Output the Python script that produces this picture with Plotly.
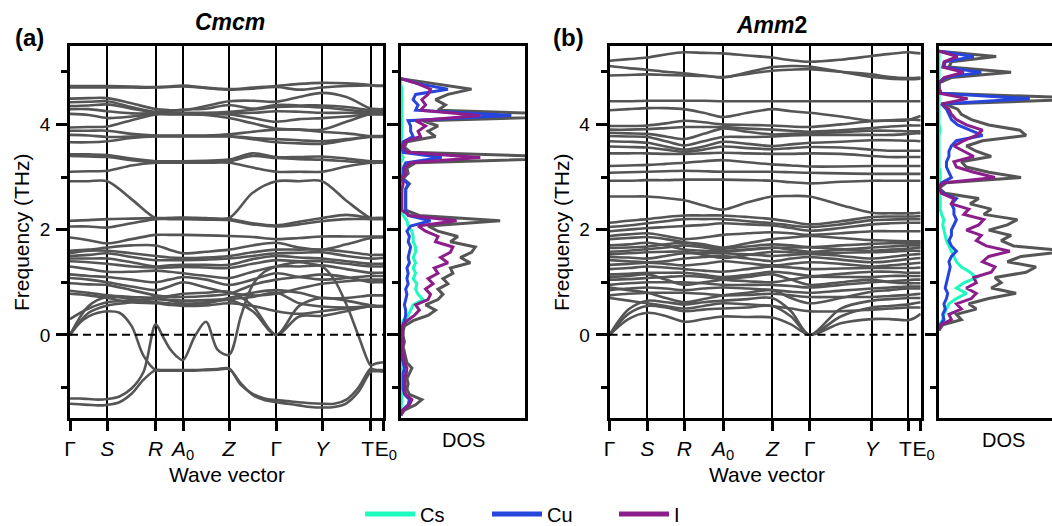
import numpy as np
import plotly.graph_objects as go

W, H = 1052, 526
FONT = "Liberation Sans, Arial, Helvetica, sans-serif"

# ---------------- k-path (high-symmetry points, path length) ----------------
KLABELS = ["Γ", "<i>S</i>", "<i>R</i>", "<i>A</i><sub>0</sub>", "<i>Z</i>", "Γ", "<i>Y</i>",
           "T\u00a0", "\u00a0E<sub>0</sub>"]
KPATH_A = [0.0, 0.373, 0.857, 1.130, 1.590, 2.063, 2.520, 3.007, 3.130]
KPATH_B = [0.0, 0.378, 0.748, 1.135, 1.628, 2.002, 2.622, 2.988, 3.112]

# ---------------- Cmcm phonon bands (values at points + segment midpoints) ----------------
BANDS_A = [
    [4.73, 4.73, 4.73, 4.72, 4.71, 4.72, 4.74, 4.70, 4.67, 4.70, 4.73, 4.77, 4.79, 4.78, 4.75, 4.74, 4.74],
    [4.70, 4.70, 4.70, 4.70, 4.70, 4.71, 4.72, 4.69, 4.66, 4.68, 4.71, 4.66, 4.70, 4.73, 4.74, 4.73, 4.73],
    [4.49, 4.50, 4.50, 4.40, 4.29, 4.27, 4.27, 4.35, 4.44, 4.45, 4.43, 4.52, 4.60, 4.52, 4.30, 4.29, 4.29],
    [4.42, 4.43, 4.44, 4.33, 4.24, 4.25, 4.28, 4.30, 4.37, 4.30, 4.37, 4.36, 4.36, 4.33, 4.27, 4.27, 4.27],
    [4.35, 4.36, 4.38, 4.30, 4.22, 4.22, 4.22, 4.22, 4.24, 4.28, 4.33, 4.34, 4.32, 4.28, 4.23, 4.23, 4.23],
    [4.29, 4.29, 4.25, 4.21, 4.21, 4.21, 4.21, 4.21, 4.21, 4.22, 4.25, 4.24, 4.22, 4.22, 4.21, 4.21, 4.21],
    [4.20, 4.18, 4.12, 4.15, 4.20, 4.20, 4.20, 4.18, 4.12, 4.02, 3.92, 3.90, 3.90, 4.05, 4.20, 4.20, 4.20],
    [3.94, 3.95, 3.96, 4.08, 4.19, 4.19, 4.19, 4.19, 4.19, 4.12, 4.05, 4.10, 4.12, 4.15, 4.19, 4.19, 4.19],
    [3.88, 3.88, 3.88, 3.82, 3.79, 3.79, 3.79, 3.79, 3.81, 3.86, 3.90, 3.90, 3.86, 3.83, 3.78, 3.78, 3.78],
    [3.80, 3.79, 3.76, 3.77, 3.78, 3.78, 3.78, 3.78, 3.78, 3.74, 3.72, 3.70, 3.68, 3.72, 3.77, 3.77, 3.77],
    [3.66, 3.66, 3.68, 3.74, 3.77, 3.77, 3.77, 3.77, 3.77, 3.72, 3.66, 3.64, 3.63, 3.70, 3.76, 3.76, 3.76],
    [3.43, 3.43, 3.42, 3.35, 3.30, 3.30, 3.30, 3.31, 3.33, 3.45, 3.38, 3.38, 3.39, 3.35, 3.30, 3.30, 3.30],
    [3.40, 3.39, 3.38, 3.32, 3.28, 3.28, 3.28, 3.29, 3.30, 3.40, 3.36, 3.34, 3.33, 3.30, 3.27, 3.27, 3.27],
    [3.10, 3.11, 3.12, 3.22, 3.27, 3.27, 3.27, 3.27, 3.27, 3.18, 3.10, 3.10, 3.10, 3.20, 3.27, 3.27, 3.27],
    [2.92, 2.92, 2.92, 2.58, 2.22, 2.22, 2.23, 2.22, 2.22, 2.70, 2.92, 2.92, 2.92, 2.55, 2.22, 2.22, 2.22],
    [2.17, 2.18, 2.20, 2.21, 2.22, 2.22, 2.22, 2.21, 2.20, 2.12, 2.08, 2.15, 2.22, 2.28, 2.22, 2.22, 2.22],
    [2.06, 2.06, 2.04, 2.12, 2.20, 2.20, 2.20, 2.19, 2.18, 2.10, 2.06, 2.10, 2.16, 2.20, 2.20, 2.20, 2.20],
    [1.85, 1.80, 1.74, 1.82, 1.90, 1.90, 1.90, 1.89, 1.88, 1.86, 1.82, 1.84, 1.87, 1.87, 1.87, 1.87, 1.87],
    [1.60, 1.62, 1.66, 1.70, 1.70, 1.62, 1.55, 1.58, 1.62, 1.70, 1.75, 1.66, 1.62, 1.72, 1.84, 1.85, 1.85],
    [1.55, 1.60, 1.60, 1.55, 1.50, 1.47, 1.46, 1.47, 1.50, 1.57, 1.62, 1.62, 1.62, 1.58, 1.52, 1.52, 1.52],
    [1.50, 1.52, 1.55, 1.48, 1.42, 1.42, 1.42, 1.43, 1.45, 1.50, 1.55, 1.56, 1.57, 1.50, 1.45, 1.45, 1.46],
    [1.45, 1.45, 1.45, 1.38, 1.30, 1.32, 1.33, 1.33, 1.33, 1.44, 1.50, 1.47, 1.45, 1.40, 1.35, 1.35, 1.35],
    [1.40, 1.38, 1.35, 1.30, 1.28, 1.28, 1.29, 1.28, 1.27, 1.35, 1.42, 1.40, 1.40, 1.35, 1.30, 1.30, 1.30],
    [1.30, 1.25, 1.20, 1.20, 1.22, 1.20, 1.17, 1.12, 1.08, 1.20, 1.30, 1.30, 1.32, 1.25, 1.18, 1.18, 1.18],
    [1.15, 1.12, 1.10, 1.05, 1.00, 1.05, 1.10, 1.05, 0.95, 1.05, 1.17, 1.10, 1.05, 1.08, 1.12, 1.12, 1.12],
    [1.08, 1.05, 1.00, 0.92, 0.85, 0.92, 1.00, 0.90, 0.80, 0.75, 0.78, 0.88, 0.97, 1.02, 1.05, 1.05, 1.05],
    [0.98, 0.96, 0.95, 0.85, 0.75, 0.72, 0.72, 0.74, 0.78, 0.95, 1.05, 1.10, 1.15, 1.10, 1.00, 1.00, 1.00],
    [0.84, 0.80, 0.75, 0.72, 0.70, 0.66, 0.60, 0.62, 0.70, 0.80, 0.85, 0.80, 0.70, 0.70, 0.75, 0.75, 0.75],
    [0.78, 0.75, 0.70, 0.62, 0.60, 0.57, 0.55, 0.56, 0.60, 0.55, 0.45, 0.40, 0.45, 0.50, 0.54, 0.54, 0.54],
    [0.00, 0.55, 0.72, 0.68, 0.62, 0.60, 0.58, 0.60, 0.66, 0.45, 0.00, 0.55, 0.70, 0.65, 0.56, 0.55, 0.55],
    [0.00, 0.42, 0.56, 0.62, 0.72, 0.74, 0.78, 0.80, 0.82, 0.55, 0.00, 0.35, 0.36, 0.45, 0.55, 0.55, 0.55],
    [0.30, 0.50, 0.62, 0.65, 0.68, 0.66, 0.65, 0.66, 0.68, 0.72, 0.80, 0.60, 0.54, 0.52, 0.54, 0.54, 0.54],
]
# soft (imaginary) branches of Cmcm, sampled at quarter points of each segment
SOFT_A = [
    [-1.21, -1.21, -1.22, -1.23, -1.22, -1.17, -1.02, -0.70, 0.20, -0.02, -0.25, -0.40, -0.48,
     -0.04, 0.25, -0.28, -0.38, 0.35, 0.95, 1.20, 1.30, 1.35, 1.38, 1.35, 1.30,
     1.05, 0.58, -0.02, -0.58, -0.56, -0.54, -0.53, -0.52],
    [-1.31, -1.32, -1.33, -1.34, -1.33, -1.28, -1.12, -0.85, -0.67, -0.67, -0.67, -0.67, -0.67,
     -0.67, -0.66, -0.65, -0.64, -0.95, -1.12, -1.21, -1.24, -1.26, -1.28, -1.30, -1.31,
     -1.31, -1.23, -1.00, -0.64, -0.66, -0.67, -0.67, -0.67],
    [0.00, 0.22, 0.35, 0.42, 0.45, 0.42, 0.17, -0.40, -0.67, -0.68, -0.68, -0.68, -0.68,
     -0.68, -0.67, -0.66, -0.65, -0.92, -1.14, -1.24, -1.28, -1.31, -1.34, -1.37, -1.38,
     -1.37, -1.30, -1.08, -0.70, -0.69, -0.69, -0.69, -0.70],
]

# ---------------- Amm2 phonon bands ----------------
BANDS_B = [
    [5.21, 5.24, 5.27, 5.33, 5.37, 5.36, 5.35, 5.31, 5.27, 5.22, 5.19, 5.23, 5.30, 5.34, 5.37, 5.36, 5.35],
    [5.11, 5.07, 5.04, 5.00, 4.97, 4.93, 4.89, 4.99, 5.09, 5.11, 5.10, 5.00, 4.90, 4.87, 4.86, 4.86, 4.87],
    [4.93, 4.94, 4.95, 4.94, 4.93, 4.92, 4.90, 4.96, 5.02, 5.04, 5.05, 5.00, 4.95, 4.90, 4.88, 4.88, 4.89],
    [4.44, 4.44, 4.45, 4.45, 4.45, 4.45, 4.44, 4.44, 4.44, 4.44, 4.44, 4.44, 4.44, 4.44, 4.44, 4.44, 4.44],
    [4.27, 4.29, 4.31, 4.31, 4.29, 4.22, 4.14, 4.22, 4.29, 4.25, 4.22, 4.15, 4.07, 4.07, 4.08, 4.12, 4.16],
    [3.97, 3.97, 3.98, 4.02, 4.07, 4.04, 4.00, 3.99, 3.98, 3.96, 3.95, 4.00, 4.06, 4.08, 4.09, 4.09, 4.08],
    [3.90, 3.90, 3.91, 3.93, 3.95, 3.95, 3.95, 3.92, 3.90, 3.88, 3.86, 3.89, 3.93, 3.96, 3.98, 3.98, 3.98],
    [3.84, 3.83, 3.82, 3.77, 3.72, 3.82, 3.92, 3.86, 3.81, 3.82, 3.83, 3.85, 3.88, 3.88, 3.87, 3.87, 3.87],
    [3.78, 3.77, 3.76, 3.68, 3.60, 3.68, 3.76, 3.76, 3.77, 3.79, 3.80, 3.80, 3.80, 3.80, 3.82, 3.83, 3.83],
    [3.68, 3.67, 3.65, 3.58, 3.52, 3.58, 3.67, 3.63, 3.59, 3.62, 3.65, 3.67, 3.70, 3.70, 3.69, 3.69, 3.68],
    [3.58, 3.57, 3.56, 3.52, 3.48, 3.52, 3.58, 3.55, 3.53, 3.55, 3.57, 3.56, 3.52, 3.50, 3.50, 3.50, 3.50],
    [3.45, 3.45, 3.45, 3.44, 3.44, 3.45, 3.46, 3.45, 3.44, 3.44, 3.45, 3.44, 3.40, 3.38, 3.38, 3.38, 3.38],
    [3.21, 3.22, 3.23, 3.25, 3.27, 3.30, 3.32, 3.28, 3.24, 3.22, 3.20, 3.20, 3.21, 3.21, 3.21, 3.21, 3.21],
    [3.08, 3.09, 3.10, 3.11, 3.12, 3.11, 3.10, 3.10, 3.10, 3.09, 3.08, 3.07, 3.06, 3.06, 3.06, 3.06, 3.06],
    [2.93, 2.93, 2.94, 2.94, 2.95, 2.95, 2.95, 2.94, 2.93, 2.90, 2.88, 2.91, 2.93, 2.93, 2.93, 2.93, 2.93],
    [2.63, 2.63, 2.63, 2.60, 2.56, 2.46, 2.38, 2.52, 2.63, 2.64, 2.63, 2.47, 2.32, 2.31, 2.31, 2.31, 2.32],
    [2.13, 2.17, 2.20, 2.24, 2.27, 2.27, 2.27, 2.24, 2.20, 2.15, 2.10, 2.16, 2.24, 2.25, 2.25, 2.25, 2.26],
    [2.05, 2.08, 2.12, 2.16, 2.20, 2.20, 2.20, 2.16, 2.12, 2.08, 2.05, 2.10, 2.18, 2.19, 2.20, 2.20, 2.20],
    [1.97, 2.00, 2.03, 2.05, 2.07, 2.09, 2.12, 2.10, 2.08, 2.03, 1.98, 2.03, 2.10, 2.12, 2.13, 2.13, 2.13],
    [1.88, 1.91, 1.93, 1.88, 1.82, 1.85, 1.90, 1.93, 1.95, 1.93, 1.90, 1.93, 1.97, 1.97, 1.97, 1.97, 1.97],
    [1.82, 1.84, 1.86, 1.82, 1.76, 1.72, 1.66, 1.74, 1.82, 1.85, 1.88, 1.84, 1.80, 1.79, 1.78, 1.78, 1.78],
    [1.70, 1.72, 1.75, 1.70, 1.62, 1.60, 1.58, 1.62, 1.66, 1.62, 1.58, 1.62, 1.66, 1.68, 1.70, 1.70, 1.70],
    [1.65, 1.66, 1.68, 1.72, 1.75, 1.70, 1.64, 1.68, 1.72, 1.70, 1.67, 1.70, 1.73, 1.74, 1.74, 1.74, 1.75],
    [1.58, 1.60, 1.63, 1.66, 1.70, 1.66, 1.60, 1.62, 1.65, 1.66, 1.66, 1.63, 1.60, 1.62, 1.64, 1.65, 1.66],
    [1.53, 1.55, 1.57, 1.58, 1.58, 1.52, 1.46, 1.52, 1.58, 1.57, 1.55, 1.56, 1.57, 1.58, 1.60, 1.60, 1.60],
    [1.48, 1.47, 1.45, 1.50, 1.55, 1.55, 1.55, 1.53, 1.50, 1.52, 1.54, 1.50, 1.45, 1.48, 1.52, 1.53, 1.54],
    [1.42, 1.40, 1.38, 1.40, 1.45, 1.48, 1.50, 1.45, 1.40, 1.45, 1.48, 1.43, 1.38, 1.40, 1.44, 1.45, 1.46],
    [1.33, 1.35, 1.37, 1.35, 1.32, 1.35, 1.40, 1.36, 1.32, 1.35, 1.38, 1.35, 1.30, 1.32, 1.35, 1.36, 1.37],
    [1.25, 1.27, 1.30, 1.28, 1.25, 1.22, 1.20, 1.25, 1.30, 1.28, 1.25, 1.26, 1.27, 1.27, 1.27, 1.27, 1.28],
    [1.15, 1.16, 1.18, 1.18, 1.18, 1.14, 1.10, 1.14, 1.20, 1.17, 1.12, 1.16, 1.20, 1.20, 1.18, 1.18, 1.18],
    [1.10, 1.12, 1.15, 1.05, 0.95, 1.00, 1.05, 1.10, 1.15, 1.05, 0.95, 1.00, 1.05, 1.00, 0.98, 0.98, 0.98],
    [1.05, 1.06, 1.08, 1.10, 1.12, 1.10, 1.05, 1.02, 1.00, 1.05, 1.10, 1.10, 1.10, 1.12, 1.12, 1.12, 1.12],
    [0.95, 0.98, 1.00, 1.00, 1.00, 0.98, 0.95, 0.95, 0.95, 0.93, 0.90, 0.95, 1.00, 1.02, 1.04, 1.05, 1.05],
    [0.90, 0.85, 0.80, 0.70, 0.62, 0.68, 0.75, 0.80, 0.85, 0.70, 0.60, 0.70, 0.82, 0.85, 0.88, 0.88, 0.88],
    [0.85, 0.88, 0.90, 0.88, 0.85, 0.88, 0.90, 0.88, 0.85, 0.82, 0.80, 0.84, 0.88, 0.90, 0.92, 0.92, 0.92],
    [0.75, 0.78, 0.80, 0.80, 0.80, 0.78, 0.75, 0.76, 0.78, 0.75, 0.72, 0.72, 0.72, 0.74, 0.76, 0.77, 0.78],
    [0.70, 0.65, 0.60, 0.55, 0.50, 0.55, 0.60, 0.58, 0.55, 0.50, 0.45, 0.45, 0.48, 0.50, 0.52, 0.52, 0.52],
    [0.00, 0.30, 0.42, 0.36, 0.25, 0.30, 0.35, 0.34, 0.33, 0.20, 0.00, 0.22, 0.30, 0.30, 0.28, 0.32, 0.40],
    [0.00, 0.40, 0.55, 0.52, 0.45, 0.48, 0.50, 0.52, 0.55, 0.35, 0.00, 0.35, 0.52, 0.55, 0.58, 0.60, 0.62],
    [0.00, 0.48, 0.65, 0.62, 0.58, 0.62, 0.65, 0.68, 0.70, 0.45, 0.00, 0.50, 0.65, 0.68, 0.70, 0.70, 0.70],
]

# ---------------- Projected DOS ----------------
DOS_FREQ_A = np.round(-1.53 + 0.1 * np.arange(65), 2)
DOS_A_TOTAL = [0, 0.03, 0.12, 0.17, 0.07, 0.05, 0.06, 0.05, 0.07, 0.09, 0.05, 0.04, 0.03, 0.02, 0.03, 0.02,
               0.02, 0.03, 0.10, 0.22, 0.28, 0.20, 0.30, 0.34, 0.30, 0.38, 0.34, 0.42, 0.40, 0.56, 0.48, 0.57,
               0.60, 0.40, 0.46, 0.30, 0.22, 0.80, 0.15, 0.04, 0.04, 0.04, 0.04, 0.04, 0.07, 0.02, 0.06, 0.05,
               0.12, 1.50, 0.08, 0.03, 0.05, 0.28, 0.22, 0.30, 0.18, 1.60, 0.30, 0.36, 0.28, 0.38, 0.57, 0.30, 0]
DOS_A_CS = [0, 0, 0.005, 0.01, 0.005, 0.004, 0.004, 0.003, 0.005, 0.005, 0.003, 0.003, 0.002, 0.002, 0.002,
            0.002, 0.003, 0.005, 0.02, 0.06, 0.08, 0.10, 0.18, 0.14, 0.12, 0.13, 0.10, 0.12, 0.10, 0.12, 0.10,
            0.12, 0.12, 0.10, 0.10, 0.09, 0.06, 0.05, 0.02, 0, 0, 0, 0, 0, 0, 0, 0, 0, 0, 0.02, 0, 0, 0, 0.01,
            0.01, 0.01, 0.01, 0.01, 0.01, 0.01, 0.01, 0.01, 0.01, 0, 0]
DOS_A_CU = [0, 0.015, 0.06, 0.07, 0.03, 0.02, 0.02, 0.02, 0.02, 0.03, 0.02, 0.01, 0.01, 0.01, 0.01, 0.01,
            0.01, 0.015, 0.03, 0.04, 0.04, 0.03, 0.04, 0.05, 0.04, 0.06, 0.05, 0.06, 0.05, 0.07, 0.06, 0.07,
            0.08, 0.06, 0.07, 0.05, 0.08, 0.24, 0.06, 0.04, 0.04, 0.04, 0.04, 0.04, 0.06, 0.01, 0.02, 0.02,
            0.04, 0.33, 0.02, 0.01, 0.02, 0.10, 0.08, 0.08, 0.06, 0.89, 0.12, 0.14, 0.10, 0.12, 0.38, 0.15, 0]
DOS_A_I = [0, 0.02, 0.07, 0.09, 0.04, 0.03, 0.035, 0.03, 0.045, 0.05, 0.03, 0.025, 0.02, 0.01, 0.02, 0.01,
           0.01, 0.015, 0.05, 0.11, 0.15, 0.12, 0.22, 0.24, 0.20, 0.26, 0.22, 0.30, 0.27, 0.38, 0.32, 0.40,
           0.42, 0.28, 0.30, 0.20, 0.14, 0.45, 0.07, 0.01, 0.01, 0.01, 0.01, 0.01, 0.02, 0.01, 0.04, 0.03,
           0.08, 0.64, 0.05, 0.02, 0.03, 0.16, 0.14, 0.20, 0.12, 0.64, 0.16, 0.20, 0.17, 0.22, 0.24, 0.14, 0]

DOS_FREQ_B = np.round(0.09 + 0.1 * np.arange(54), 2)
DOS_B_TOTAL = [0, 0.03, 0.18, 0.14, 0.30, 0.24, 0.40, 0.62, 0.42, 0.50, 0.45, 0.70, 0.78, 0.55, 0.66, 1.05,
               0.60, 0.50, 0.58, 0.40, 0.55, 0.63, 0.36, 0.42, 0.25, 0.32, 0.05, 0, 0.06, 0.66, 0.40, 0.22,
               0.18, 0.42, 0.30, 0.22, 0.35, 0.70, 0.65, 0.40, 0.26, 0.18, 0.15, 0.04, 1.30, 0.02, 0, 0,
               0.10, 0.58, 0.08, 0.10, 0.46, 0]
DOS_B_CS = [0, 0.005, 0.03, 0.04, 0.06, 0.08, 0.14, 0.22, 0.14, 0.20, 0.30, 0.25, 0.18, 0.14, 0.12, 0.10,
            0.08, 0.06, 0.05, 0.04, 0.03, 0.04, 0.02, 0.01, 0.01, 0.01, 0, 0, 0, 0.01, 0.01, 0, 0, 0, 0, 0,
            0, 0, 0.01, 0, 0, 0, 0, 0, 0, 0, 0, 0, 0, 0, 0, 0, 0, 0]
DOS_B_CU = [0, 0.01, 0.04, 0.03, 0.05, 0.04, 0.06, 0.07, 0.05, 0.06, 0.07, 0.08, 0.09, 0.08, 0.10, 0.14,
            0.10, 0.08, 0.10, 0.10, 0.12, 0.14, 0.12, 0.12, 0.10, 0.14, 0.03, 0, 0.02, 0.10, 0.08, 0.06,
            0.06, 0.08, 0.08, 0.10, 0.14, 0.35, 0.25, 0.15, 0.10, 0.08, 0.06, 0.02, 0.73, 0.01, 0, 0,
            0.05, 0.34, 0.04, 0.05, 0.28, 0]
DOS_B_I = [0, 0.015, 0.10, 0.08, 0.18, 0.14, 0.26, 0.30, 0.22, 0.30, 0.28, 0.42, 0.45, 0.35, 0.40, 0.57,
           0.38, 0.30, 0.34, 0.22, 0.32, 0.36, 0.20, 0.24, 0.10, 0.12, 0.02, 0, 0.03, 0.45, 0.28, 0.14,
           0.12, 0.28, 0.20, 0.12, 0.20, 0.30, 0.35, 0.22, 0.14, 0.10, 0.08, 0.02, 0.23, 0.01, 0, 0,
           0.04, 0.20, 0.03, 0.04, 0.15, 0]

SPECIES = ["Cs", "Cu", "I"]
COLORS = {"total": "#555555", "Cs": "#1dfbbf", "Cu": "#2545dc", "I": "#8b1e8a"}
BAND_COLOR = "#555555"

FREQ_RANGE = [-1.58, 5.49]


def sample_path(kpath, nsub):
    xs = [kpath[0]]
    for a, b in zip(kpath[:-1], kpath[1:]):
        for j in range(1, nsub + 1):
            xs.append(a + (b - a) * j / nsub)
    return xs


def band_trace(kpath, bands, nsub, xa, ya):
    ks = sample_path(kpath, nsub)
    X, Y = [], []
    for b in bands:
        X += ks + [None]
        Y += list(b) + [None]
    return go.Scatter(x=X, y=Y, mode="lines", xaxis=xa, yaxis=ya, showlegend=False,
                      hoverinfo="skip", connectgaps=False,
                      line=dict(color=BAND_COLOR, width=2.6, shape="spline", smoothing=0.9))


fig = go.Figure()
fig.add_trace(band_trace(KPATH_A, BANDS_A, 2, "x", "y"))
fig.add_trace(band_trace(KPATH_A, SOFT_A, 4, "x", "y"))
fig.add_trace(band_trace(KPATH_B, BANDS_B, 2, "x3", "y3"))

for freq, tot, cs, cu, io, xa, ya in [
    (DOS_FREQ_A, DOS_A_TOTAL, DOS_A_CS, DOS_A_CU, DOS_A_I, "x2", "y2"),
    (DOS_FREQ_B, DOS_B_TOTAL, DOS_B_CS, DOS_B_CU, DOS_B_I, "x4", "y4"),
]:
    for key, vals in [("total", tot), ("Cs", cs), ("Cu", cu), ("I", io)]:
        fig.add_trace(go.Scatter(x=vals, y=freq, mode="lines", xaxis=xa, yaxis=ya, showlegend=False,
                                 hoverinfo="skip", line=dict(color=COLORS[key], width=3)))

# legend entries
for sp in SPECIES:
    fig.add_trace(go.Scatter(x=[None], y=[None], mode="lines", name=sp, xaxis="x2", yaxis="y2",
                             line=dict(color=COLORS[sp], width=5)))


def px_x(p):
    return p / W


def px_y(p):
    return 1 - p / H


ydom = [px_y(418), px_y(46)]
frame = dict(showline=True, linecolor="black", linewidth=2.5, zeroline=False, automargin=False)
band_y = dict(frame, range=FREQ_RANGE, domain=ydom, mirror=True, showgrid=False,
              tick0=0, dtick=2, ticks="outside", ticklen=11, tickwidth=3, tickcolor="black",
              ticklabelstandoff=2,
              tickfont=dict(size=19, color="black", family=FONT),
              minor=dict(dtick=1, tick0=0, ticks="outside", ticklen=6, tickwidth=2.5, tickcolor="black",
                         showgrid=False))
dos_y = dict(band_y, showticklabels=False)


def band_x(kpath, dom):
    return dict(frame, domain=dom, range=[kpath[0], kpath[-1]], mirror=True,
                tickmode="array", tickvals=kpath, ticktext=KLABELS, tickangle=0,
                ticks="outside", ticklen=10, tickwidth=3, tickcolor="black",
                tickfont=dict(size=21, color="black", family=FONT),
                showgrid=True, gridcolor="black", gridwidth=1.5)


fig.update_layout(
    template="none",
    width=W, height=H, margin=dict(l=0, r=0, t=0, b=0, autoexpand=False),
    paper_bgcolor="white", plot_bgcolor="white",
    font=dict(family=FONT, color="black"),
    xaxis=band_x(KPATH_A, [px_x(70), px_x(383)]),
    yaxis=dict(band_y, anchor="x"),
    xaxis2=dict(frame, domain=[px_x(400.7), px_x(525)], range=[0, 1.0], mirror=True,
                showticklabels=False, ticks="", showgrid=False, anchor="y2"),
    yaxis2=dict(dos_y, anchor="x2"),
    xaxis3=band_x(KPATH_B, [px_x(609.5), px_x(920.7)]),
    yaxis3=dict(band_y, anchor="x3"),
    xaxis4=dict(frame, domain=[px_x(939), 1.0], range=[0, 0.909], mirror=True,
                showticklabels=False, ticks="", showgrid=False, anchor="y4"),
    yaxis4=dict(dos_y, anchor="x4", mirror=False),
    legend=dict(orientation="h", x=px_x(360), xanchor="left", y=px_y(514), yanchor="middle",
                font=dict(size=20, color="black", family=FONT), bgcolor="rgba(0,0,0,0)",
                entrywidth=62, entrywidthmode="pixels", itemwidth=50, borderwidth=0),
)

# dashed zero-frequency lines
for xr, yr in [("x domain", "y"), ("x3 domain", "y3")]:
    fig.add_shape(type="line", xref=xr, yref=yr, x0=0, x1=1, y0=0, y1=0,
                  line=dict(color="black", width=2, dash="8px,5px"))

ann = [
    ("<b>(a)</b>", 29, 38, 24, 0),
    ("<b><i>Cmcm</i></b>", 230, 22, 23, 0),
    ("<b>(b)</b>", 568, 38, 24, 0),
    ("<b><i>Amm</i>2</b>", 772, 25, 23, 0),
    ("Frequency (THz)", 21, 232, 21, -90),
    ("Frequency (THz)", 561, 232, 21, -90),
    ("Wave vector", 227, 474, 21, 0),
    ("Wave vector", 767, 474, 21, 0),
    ("DOS", 463, 440, 20, 0),
    ("DOS", 1003, 440, 20, 0),
]
for text, x, y, size, ang in ann:
    fig.add_annotation(text=text, x=px_x(x), y=px_y(y), xref="paper", yref="paper",
                       showarrow=False, xanchor="center", yanchor="middle", textangle=ang,
                       font=dict(size=size, color="black", family=FONT))

fig.write_html("out.html", config={"displayModeBar": False},
               post_script="document.body.style.margin='0px';")
